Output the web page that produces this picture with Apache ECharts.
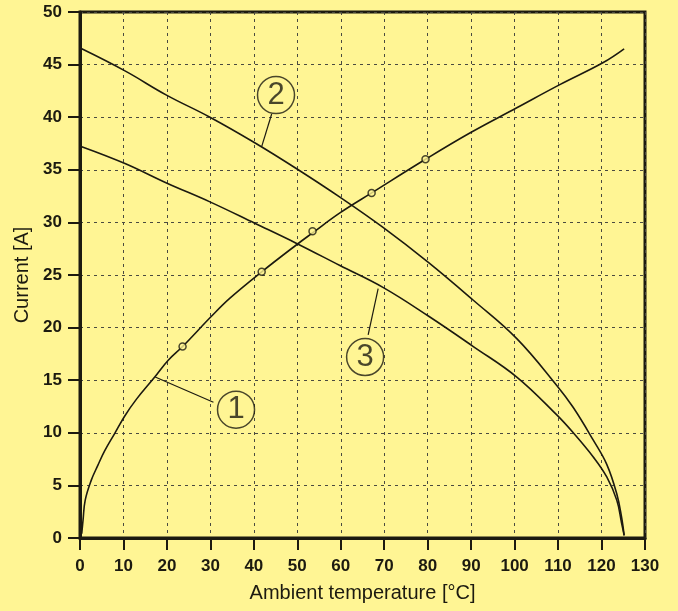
<!DOCTYPE html>
<html>
<head>
<meta charset="utf-8">
<script src="https://cdn.jsdelivr.net/npm/echarts@6/dist/echarts.min.js"></script>
<style>
html,body{margin:0;padding:0;background:#fff594;}
#chart{width:678px;height:611px;}
</style>
</head>
<body>
<div id="chart"></div>
<script>
// Curve 1 (rising)
const curve1 = [[0.4,0.4],[0.7,1.7],[1.2,3.6],[2.6,5.5],[4.1,6.9],[5.7,8.3],[8.0,9.95],[10.3,11.6],[13.0,13.2],[17.2,15.3],[20.3,16.9],[23.6,18.2],[30.3,21.1],[34.5,22.8],[41.8,25.3],[49.9,27.9],[53.5,29.0],[59.8,30.9],[67.1,32.8],[79.5,36.0],[89.7,38.5],[100.5,40.9],[110.4,43.1],[120.4,45.2],[125.2,46.5]];
// Curve 2 (upper falling)
const curve2 = [[0.4,46.5],[10.35,44.4],[19.9,42.1],[29.9,40.0],[40.3,37.55],[49.85,35.1],[59.8,32.4],[69.8,29.5],[80.15,26.2],[90.5,22.6],[100.5,18.95],[109.7,14.5],[113.5,12.4],[118.1,9.3],[121.2,7.0],[123.5,4.2],[124.6,2.0],[125.2,0.25]];
// Curve 3 (lower falling)
const curve3 = [[0.4,37.2],[10.35,35.6],[19.9,33.75],[29.9,31.95],[40.3,29.9],[49.85,28.0],[59.8,25.9],[69.8,23.8],[80.15,21.1],[90.5,18.2],[100.5,15.3],[109.7,11.7],[113.5,10.0],[118.1,7.7],[121.2,5.8],[123.5,3.6],[124.6,1.45],[125.2,0.25]];
// Measured points on curve 1
const markers1 = [[23.6,18.2],[41.8,25.3],[53.5,29.15],[67.1,32.8],[79.5,36.0]];
// Callout labels
const calloutLabels = ['1','2','3'];
const calloutCenters = [[35.9,12.2],[45.1,42.1],[65.6,17.2]];
const calloutLeaders = [[[17.3,15.3],[30.7,12.9]],[[41.8,37.2],[44.1,40.3]],[[68.6,23.7],[66.3,19.3]]];
// Axis settings
const xMin = 0, xMax = 130, xStep = 10;
const yMin = 0, yMax = 50, yStep = 5;
const xName = 'Ambient temperature [°C]';
const yName = 'Current [A]';

const ink = '#1c1a10';
const chart = echarts.init(document.getElementById('chart'));
const curveStyle = {type:'line', showSymbol:false, smooth:0.4, lineStyle:{color:ink,width:1.6}, silent:true, z:3};
chart.setOption({
  backgroundColor:'#fff594',
  animation:false,
  grid:{left:80,right:33,top:12,bottom:73,show:true,borderColor:ink,borderWidth:3,backgroundColor:'transparent'},
  xAxis:{type:'value',min:xMin,max:xMax,interval:xStep,
    name:xName,nameLocation:'middle',nameGap:45,
    nameTextStyle:{fontFamily:'Liberation Sans, Arial, sans-serif',fontSize:20,color:ink},
    axisLine:{show:true,lineStyle:{color:ink,width:3}},
    axisTick:{show:true,inside:false,length:12,lineStyle:{color:ink,width:2}},
    axisLabel:{margin:20,fontFamily:'Liberation Sans, Arial, sans-serif',fontSize:17,fontWeight:'bold',color:ink},
    splitLine:{show:true,lineStyle:{color:'#4a4a40',width:1,type:[3,4]}}},
  yAxis:{type:'value',min:yMin,max:yMax,interval:yStep,
    name:yName,nameLocation:'middle',nameGap:46,
    nameTextStyle:{fontFamily:'Liberation Sans, Arial, sans-serif',fontSize:20,color:ink},
    axisLine:{show:true,lineStyle:{color:ink,width:3}},
    axisTick:{show:true,inside:false,length:12,lineStyle:{color:ink,width:2}},
    axisLabel:{margin:18,fontFamily:'Liberation Sans, Arial, sans-serif',fontSize:17,fontWeight:'bold',color:ink},
    splitLine:{show:true,lineStyle:{color:'#4a4a40',width:1,type:[3,4]}}},
  series:[
    Object.assign({name:'1',data:curve1},curveStyle),
    Object.assign({name:'2',data:curve2},curveStyle),
    Object.assign({name:'3',data:curve3},curveStyle),
    {type:'scatter',data:markers1,symbol:'circle',symbolSize:7,silent:true,z:4,
      itemStyle:{color:'#fff594',borderColor:ink,borderWidth:1.5}},
    {type:'scatter',silent:true,z:5,
      data:calloutCenters.map((c,i)=>({value:c,label:{formatter:calloutLabels[i]}})),
      symbol:'circle',symbolSize:37,
      itemStyle:{color:'#fff594',borderColor:ink,borderWidth:1.5},
      label:{show:true,position:'inside',fontFamily:'Liberation Sans, Arial, sans-serif',fontSize:31,color:ink},
      markLine:{silent:true,symbol:['none','none'],label:{show:false},
        lineStyle:{color:ink,width:1.2,type:'solid'},
        data:calloutLeaders.map(l=>[{coord:l[0]},{coord:l[1]}])}}
  ]
});
</script>
</body>
</html>
